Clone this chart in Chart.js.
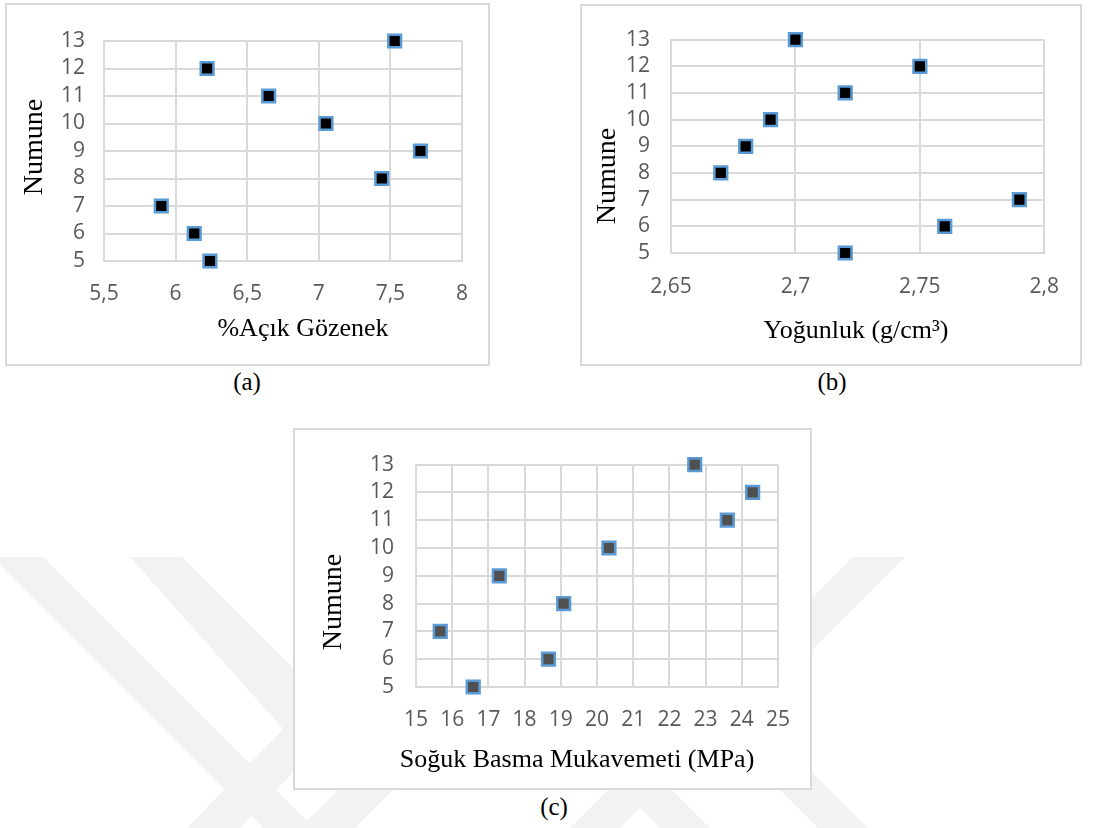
<!DOCTYPE html>
<html>
<head>
<meta charset="utf-8">
<script src="https://cdn.jsdelivr.net/npm/chart.js@4.4.0/dist/chart.umd.min.js"></script>
<style>
    body { margin: 0; width: 1102px; height: 828px; position: relative; background: #fff; overflow: hidden; }
    .frame { position: absolute; box-sizing: border-box; border: 2px solid #d9d9d9; background: #fff; }
    .frame canvas { display: block; }
    .cap { position: absolute; font: 25px "Liberation Serif", serif; color: #000; transform: translate(-50%, -50%); }
    svg.wm { position: absolute; left: 0; top: 0; }
</style>
</head>
<body>
<svg class="wm" width="1102" height="828">
    <g fill="#f2f2f2">
        <polygon points="0,557 43,557 314,828 263,828 0,565"/>
        <polygon points="130,557 182,557 300,675 300,748"/>
        <polygon points="187,828 240,828 300,765 300,712"/>
        <polygon points="300,828 355,828 455,728 400,728"/>
        <polygon points="570,828 620,828 640,808 660,828 710,828 640,758"/>
        <polygon points="690,700 740,700 868,828 818,828"/>
        <polygon points="853,557 905,557 805,657 805,605"/>
    </g>
</svg>

<div class="frame" style="left:5px;top:3px;width:485px;height:363px"><canvas id="chartA" width="481" height="359"></canvas></div>
<div class="frame" style="left:580px;top:4px;width:502px;height:362px"><canvas id="chartB" width="498" height="358"></canvas></div>
<div class="frame" style="left:293px;top:428px;width:519px;height:362px"><canvas id="chartC" width="515" height="358"></canvas></div>

<div class="cap" style="left:247px;top:382px">(a)</div>
<div class="cap" style="left:832px;top:382px">(b)</div>
<div class="cap" style="left:554px;top:807px">(c)</div>

<script>
// sample numbers (y axis) and measured values per sample
var numune = [5, 6, 7, 8, 9, 10, 11, 12, 13];
var acikGozenek = [6.24, 6.13, 5.90, 7.44, 7.71, 7.05, 6.65, 6.22, 7.53];
var yogunluk = [2.72, 2.76, 2.79, 2.67, 2.68, 2.69, 2.72, 2.75, 2.70];
var sogukBasma = [16.58, 18.66, 15.67, 19.08, 17.3, 20.33, 23.6, 24.3, 22.7];

// tick labels
var yTicks = [5, 6, 7, 8, 9, 10, 11, 12, 13];
var xTicksA = [5.5, 6, 6.5, 7, 7.5, 8];
var xTicksB = [2.65, 2.7, 2.75, 2.8];
var xTicksC = [15, 16, 17, 18, 19, 20, 21, 22, 23, 24, 25];

var axisTitlePlugin = {
    id: 'axisTitles',
    afterDraw: function (chart, args, opts) {
        var ctx = chart.ctx;
        ctx.save();
        ctx.fillStyle = '#000';
        ctx.textAlign = 'center';
        ctx.textBaseline = 'middle';
        ctx.font = '26px "Liberation Serif", serif';
        ctx.fillText(opts.xText, opts.xPos[0], opts.xPos[1]);
        ctx.font = '28px "Liberation Serif", serif';
        ctx.translate(opts.yPos[0], opts.yPos[1]);
        ctx.rotate(-Math.PI / 2);
        ctx.fillText(opts.yText, 0, 0);
        ctx.restore();
    }
};

function fmt(v) {
    return String(Math.round(v * 100) / 100).replace('.', ',');
}

function makeChart(id, xValues, xTicks, xTitle, fill, lay) {
    var points = numune.map(function (n, i) {
        return { x: xValues[i], y: n };
    });
    var tickFont = { family: '"Open Sans", sans-serif', size: 21 };

    return new Chart(document.getElementById(id), {
        type: 'scatter',
        data: {
            datasets: [{
                data: points,
                pointStyle: 'rect',
                pointRadius: 9,
                pointHoverRadius: 9,
                pointBackgroundColor: fill,
                pointBorderColor: '#5b9bd5',
                pointBorderWidth: 2.5,
                clip: false
            }]
        },
        options: {
            responsive: false,
            animation: false,
            events: [],
            layout: { padding: { left: 0, top: lay.top, right: lay.right, bottom: 0 } },
            plugins: {
                legend: { display: false },
                tooltip: { enabled: false },
                axisTitles: { xText: xTitle, yText: 'Numune', xPos: lay.xTitle, yPos: lay.yTitle }
            },
            scales: {
                x: {
                    type: 'linear',
                    min: xTicks[0],
                    max: xTicks[xTicks.length - 1],
                    ticks: {
                        stepSize: xTicks[1] - xTicks[0],
                        autoSkip: false,
                        maxRotation: 0,
                        padding: lay.xPad,
                        color: '#595959',
                        font: tickFont,
                        callback: fmt
                    },
                    grid: { color: '#d9d9d9', lineWidth: 2, drawTicks: false },
                    border: { color: '#d9d9d9', width: 2 },
                    afterFit: function (scale) { scale.height = lay.xHeight; }
                },
                y: {
                    type: 'linear',
                    min: yTicks[0],
                    max: yTicks[yTicks.length - 1],
                    ticks: {
                        stepSize: 1,
                        autoSkip: false,
                        padding: lay.yPad,
                        color: '#595959',
                        font: tickFont
                    },
                    grid: {
                        color: function (c) { return c.tick && c.tick.value === yTicks[0] ? '#bfbfbf' : '#d9d9d9'; },
                        lineWidth: 2,
                        drawTicks: false
                    },
                    border: { color: '#d9d9d9', width: 2 },
                    afterFit: function (scale) { scale.width = lay.yWidth; }
                }
            }
        },
        plugins: [axisTitlePlugin]
    });
}

makeChart('chartA', acikGozenek, xTicksA, '%Açık Gözenek', '#000000', {
    top: 36, right: 19, yWidth: 97, xHeight: 103, xPad: 20, yPad: 19,
    xTitle: [296, 324], yTitle: [28, 142]
});
makeChart('chartB', yogunluk, xTicksB, 'Yoğunluk (g/cm³)', '#000000', {
    top: 22, right: 30, yWidth: 89, xHeight: 111, xPad: 21, yPad: 21,
    xTitle: [274, 325], yTitle: [26, 170]
});
makeChart('chartC', sogukBasma, xTicksC, 'Soğuk Basma Mukavemeti (MPa)', '#505050', {
    top: 30, right: 26, yWidth: 121, xHeight: 101, xPad: 20, yPad: 22,
    xTitle: [282, 330], yTitle: [39, 172]
});
</script>
</body>
</html>
